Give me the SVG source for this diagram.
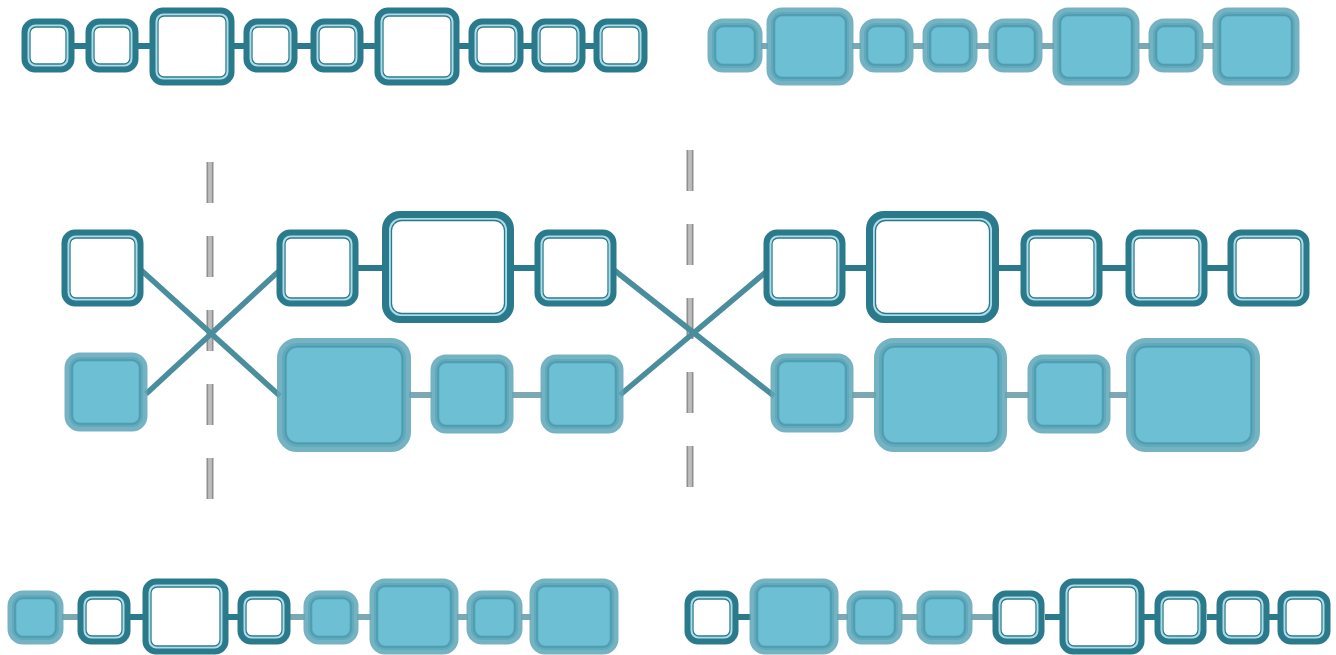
<svg xmlns="http://www.w3.org/2000/svg" width="1336" height="655" viewBox="0 0 1336 655">
<style>
.oo{fill:#fff;stroke:#2b7a8c;stroke-width:7;rx:10px}
.or{fill:none;stroke:#a9dde9;stroke-width:2;rx:7px}
.oi{fill:none;stroke:#2b7a8c;stroke-width:1.3;rx:6px}
.fo{fill:#6dbfd3;stroke:#5ea6b7;stroke-width:9;stroke-opacity:0.85;rx:11px}
.fi{fill:none;stroke:#4a9cb1;stroke-width:1.5;rx:8px}
.big .oo{rx:14px;stroke-width:8}.big .or{rx:11px}.big .oi{rx:10px}
.big .fo{rx:15px;stroke-width:10}.big .fi{rx:12px}
.cd{stroke:#2b7a8c;stroke-width:6;fill:none}
.cl{stroke:#7ca8b3;stroke-width:6;fill:none}
.cx{stroke:#4a8d9c;stroke-width:5.5;fill:none}
.dash1{stroke:#8f8f8f;stroke-width:7;stroke-dasharray:41 33;fill:none}
.dash2{stroke:#dedede;stroke-width:3;stroke-dasharray:41 33;fill:none}
.dash3{stroke:#9a9a9a;stroke-width:1;stroke-dasharray:41 33;fill:none}
</style>
<rect width="1336" height="655" fill="#fff"/>
<g id="separators">
<line class="dash1" x1="210" y1="162" x2="210" y2="503"/>
<line class="dash2" x1="210" y1="162" x2="210" y2="503"/>
<line class="dash3" x1="210" y1="162" x2="210" y2="503"/>
<line class="dash1" x1="690" y1="150" x2="690" y2="493"/>
<line class="dash2" x1="690" y1="150" x2="690" y2="493"/>
<line class="dash3" x1="690" y1="150" x2="690" y2="493"/>
</g>
<g id="connectors">
<line class="cd" x1="72" y1="46" x2="87" y2="46"/>
<line class="cd" x1="137" y1="46" x2="151" y2="46"/>
<line class="cd" x1="233" y1="46" x2="245" y2="46"/>
<line class="cd" x1="296" y1="46" x2="312" y2="46"/>
<line class="cd" x1="362" y1="46" x2="376" y2="46"/>
<line class="cd" x1="458" y1="46" x2="470" y2="46"/>
<line class="cd" x1="522" y1="46" x2="533" y2="46"/>
<line class="cd" x1="584" y1="46" x2="595" y2="46"/>
<line class="cl" x1="761" y1="46" x2="768" y2="46"/>
<line class="cl" x1="852" y1="46" x2="861" y2="46"/>
<line class="cl" x1="913" y1="46" x2="924" y2="46"/>
<line class="cl" x1="976" y1="46" x2="990" y2="46"/>
<line class="cl" x1="1042" y1="46" x2="1054" y2="46"/>
<line class="cl" x1="1138" y1="46" x2="1150" y2="46"/>
<line class="cl" x1="1202" y1="46" x2="1214" y2="46"/>
<line class="cd" x1="357" y1="268" x2="384" y2="268"/>
<line class="cd" x1="512" y1="268" x2="536" y2="268"/>
<line class="cd" x1="844" y1="268" x2="868" y2="268"/>
<line class="cd" x1="997" y1="268" x2="1022" y2="268"/>
<line class="cd" x1="1101" y1="268" x2="1127" y2="268"/>
<line class="cd" x1="1206" y1="268" x2="1229" y2="268"/>
<line class="cl" x1="409" y1="395" x2="432" y2="395"/>
<line class="cl" x1="512" y1="395" x2="542" y2="395"/>
<line class="cl" x1="852" y1="395" x2="876" y2="395"/>
<line class="cl" x1="1005" y1="395" x2="1029" y2="395"/>
<line class="cl" x1="1109" y1="395" x2="1128" y2="395"/>
<line class="cl" x1="62" y1="617" x2="79" y2="617"/>
<line class="cd" x1="130" y1="617" x2="144" y2="617"/>
<line class="cd" x1="227" y1="617" x2="239" y2="617"/>
<line class="cl" x1="290" y1="617" x2="305" y2="617"/>
<line class="cl" x1="357" y1="617" x2="371" y2="617"/>
<line class="cl" x1="457" y1="617" x2="468" y2="617"/>
<line class="cl" x1="521" y1="617" x2="531" y2="617"/>
<line class="cd" x1="737" y1="617" x2="751" y2="617"/>
<line class="cl" x1="837" y1="617" x2="848" y2="617"/>
<line class="cl" x1="901" y1="617" x2="918" y2="617"/>
<line class="cl" x1="971" y1="617" x2="994" y2="617"/>
<line class="cd" x1="1045" y1="617" x2="1061" y2="617"/>
<line class="cd" x1="1144" y1="617" x2="1156" y2="617"/>
<line class="cd" x1="1207" y1="617" x2="1218" y2="617"/>
<line class="cd" x1="1269" y1="617" x2="1279" y2="617"/>
<line class="cx" x1="141" y1="270" x2="280" y2="396"/>
<line class="cx" x1="146" y1="394" x2="279" y2="271"/>
<line class="cx" x1="614" y1="270" x2="774" y2="396"/>
<line class="cx" x1="620" y1="395" x2="766" y2="272"/>
</g>
<!-- top-left row -->
<g id="tl1" transform="translate(22,19)"><rect class="oo" x="3" y="3" width="46" height="47"/><rect class="or" x="6.5" y="6.5" width="39" height="40"/><rect class="oi" x="8" y="8" width="36" height="37"/></g>
<g id="tl2" transform="translate(86,19)"><rect class="oo" x="3" y="3" width="46" height="47"/><rect class="or" x="6.5" y="6.5" width="39" height="40"/><rect class="oi" x="8" y="8" width="36" height="37"/></g>
<g id="tl3" transform="translate(150,8)"><rect class="oo" x="3" y="3" width="78" height="71"/><rect class="or" x="6.5" y="6.5" width="71" height="64"/><rect class="oi" x="8" y="8" width="68" height="61"/></g>
<g id="tl4" transform="translate(244,19)"><rect class="oo" x="3" y="3" width="47" height="47"/><rect class="or" x="6.5" y="6.5" width="40" height="40"/><rect class="oi" x="8" y="8" width="37" height="37"/></g>
<g id="tl5" transform="translate(311,19)"><rect class="oo" x="3" y="3" width="46" height="47"/><rect class="or" x="6.5" y="6.5" width="39" height="40"/><rect class="oi" x="8" y="8" width="36" height="37"/></g>
<g id="tl6" transform="translate(375,8)"><rect class="oo" x="3" y="3" width="78" height="71"/><rect class="or" x="6.5" y="6.5" width="71" height="64"/><rect class="oi" x="8" y="8" width="68" height="61"/></g>
<g id="tl7" transform="translate(469,19)"><rect class="oo" x="3" y="3" width="48" height="47"/><rect class="or" x="6.5" y="6.5" width="41" height="40"/><rect class="oi" x="8" y="8" width="38" height="37"/></g>
<g id="tl8" transform="translate(532,19)"><rect class="oo" x="3" y="3" width="47" height="47"/><rect class="or" x="6.5" y="6.5" width="40" height="40"/><rect class="oi" x="8" y="8" width="37" height="37"/></g>
<g id="tl9" transform="translate(594,19)"><rect class="oo" x="3" y="3" width="47" height="47"/><rect class="or" x="6.5" y="6.5" width="40" height="40"/><rect class="oi" x="8" y="8" width="37" height="37"/></g>
<!-- top-right row -->
<g id="tr1" transform="translate(708,19)"><rect class="fo" x="4" y="4" width="46" height="45"/><rect class="fi" x="7" y="7" width="40" height="39"/></g>
<g id="tr2" transform="translate(767,8)"><rect class="fo" x="4" y="4" width="78" height="69"/><rect class="fi" x="7" y="7" width="72" height="63"/></g>
<g id="tr3" transform="translate(860,19)"><rect class="fo" x="4" y="4" width="45" height="45"/><rect class="fi" x="7" y="7" width="39" height="39"/></g>
<g id="tr4" transform="translate(923,19)"><rect class="fo" x="4" y="4" width="46" height="45"/><rect class="fi" x="7" y="7" width="40" height="39"/></g>
<g id="tr5" transform="translate(989,19)"><rect class="fo" x="4" y="4" width="45" height="45"/><rect class="fi" x="7" y="7" width="39" height="39"/></g>
<g id="tr6" transform="translate(1053,8)"><rect class="fo" x="4" y="4" width="78" height="69"/><rect class="fi" x="7" y="7" width="72" height="63"/></g>
<g id="tr7" transform="translate(1149,19)"><rect class="fo" x="4" y="4" width="46" height="45"/><rect class="fi" x="7" y="7" width="40" height="39"/></g>
<g id="tr8" transform="translate(1213,8)"><rect class="fo" x="4" y="4" width="78" height="69"/><rect class="fi" x="7" y="7" width="72" height="63"/></g>
<!-- middle top row -->
<g id="ma" transform="translate(62,230)"><rect class="oo" x="3" y="3" width="75" height="70"/><rect class="or" x="6.5" y="6.5" width="68" height="63"/><rect class="oi" x="8" y="8" width="65" height="60"/></g>
<g id="mb" transform="translate(277,230)"><rect class="oo" x="3" y="3" width="75" height="70"/><rect class="or" x="6.5" y="6.5" width="68" height="63"/><rect class="oi" x="8" y="8" width="65" height="60"/></g>
<g id="mc" class="big" transform="translate(383,212)"><rect class="oo" x="3" y="3" width="124" height="104"/><rect class="or" x="7" y="7" width="116" height="96"/><rect class="oi" x="8.5" y="8.5" width="113" height="93"/></g>
<g id="md" transform="translate(535,230)"><rect class="oo" x="3" y="3" width="75" height="70"/><rect class="or" x="6.5" y="6.5" width="68" height="63"/><rect class="oi" x="8" y="8" width="65" height="60"/></g>
<g id="me" transform="translate(764,230)"><rect class="oo" x="3" y="3" width="75" height="70"/><rect class="or" x="6.5" y="6.5" width="68" height="63"/><rect class="oi" x="8" y="8" width="65" height="60"/></g>
<g id="mf" class="big" transform="translate(867,212)"><rect class="oo" x="3" y="3" width="125" height="104"/><rect class="or" x="7" y="7" width="117" height="96"/><rect class="oi" x="8.5" y="8.5" width="114" height="93"/></g>
<g id="mg" transform="translate(1021,230)"><rect class="oo" x="3" y="3" width="75" height="70"/><rect class="or" x="6.5" y="6.5" width="68" height="63"/><rect class="oi" x="8" y="8" width="65" height="60"/></g>
<g id="mh" transform="translate(1126,230)"><rect class="oo" x="3" y="3" width="75" height="70"/><rect class="or" x="6.5" y="6.5" width="68" height="63"/><rect class="oi" x="8" y="8" width="65" height="60"/></g>
<g id="mi" transform="translate(1228,230)"><rect class="oo" x="3" y="3" width="75" height="70"/><rect class="or" x="6.5" y="6.5" width="68" height="63"/><rect class="oi" x="8" y="8" width="65" height="60"/></g>
<!-- middle bottom row -->
<g id="na" transform="translate(65,353)"><rect class="fo" x="4" y="4" width="74" height="70"/><rect class="fi" x="7" y="7" width="68" height="64"/></g>
<g id="nb" class="big" transform="translate(278,339)"><rect class="fo" x="4" y="4" width="124" height="104"/><rect class="fi" x="7.5" y="7.5" width="117" height="97"/></g>
<g id="nc" transform="translate(431,355)"><rect class="fo" x="4" y="4" width="74" height="70"/><rect class="fi" x="7" y="7" width="68" height="64"/></g>
<g id="nd" transform="translate(541,355)"><rect class="fo" x="4" y="4" width="74" height="70"/><rect class="fi" x="7" y="7" width="68" height="64"/></g>
<g id="ne" transform="translate(771,354)"><rect class="fo" x="4" y="4" width="74" height="70"/><rect class="fi" x="7" y="7" width="68" height="64"/></g>
<g id="nf" class="big" transform="translate(875,339)"><rect class="fo" x="4" y="4" width="123" height="104"/><rect class="fi" x="7.5" y="7.5" width="116" height="97"/></g>
<g id="ng" transform="translate(1028,355)"><rect class="fo" x="4" y="4" width="74" height="70"/><rect class="fi" x="7" y="7" width="68" height="64"/></g>
<g id="nh" class="big" transform="translate(1127,339)"><rect class="fo" x="4" y="4" width="124" height="104"/><rect class="fi" x="7.5" y="7.5" width="117" height="97"/></g>
<!-- bottom-left row -->
<g id="bl1" transform="translate(8,591)"><rect class="fo" x="4" y="4" width="47" height="45"/><rect class="fi" x="7" y="7" width="41" height="39"/></g>
<g id="bl2" transform="translate(78,591)"><rect class="oo" x="3" y="3" width="46" height="47"/><rect class="or" x="6.5" y="6.5" width="39" height="40"/><rect class="oi" x="8" y="8" width="36" height="37"/></g>
<g id="bl3" transform="translate(143,579)"><rect class="oo" x="3" y="3" width="79" height="69"/><rect class="or" x="6.5" y="6.5" width="72" height="62"/><rect class="oi" x="8" y="8" width="69" height="59"/></g>
<g id="bl4" transform="translate(238,591)"><rect class="oo" x="3" y="3" width="46" height="47"/><rect class="or" x="6.5" y="6.5" width="39" height="40"/><rect class="oi" x="8" y="8" width="36" height="37"/></g>
<g id="bl5" transform="translate(304,591)"><rect class="fo" x="4" y="4" width="46" height="45"/><rect class="fi" x="7" y="7" width="40" height="39"/></g>
<g id="bl6" transform="translate(370,579)"><rect class="fo" x="4" y="4" width="80" height="67"/><rect class="fi" x="7" y="7" width="74" height="61"/></g>
<g id="bl7" transform="translate(467,591)"><rect class="fo" x="4" y="4" width="47" height="45"/><rect class="fi" x="7" y="7" width="41" height="39"/></g>
<g id="bl8" transform="translate(530,579)"><rect class="fo" x="4" y="4" width="80" height="67"/><rect class="fi" x="7" y="7" width="74" height="61"/></g>
<!-- bottom-right row -->
<g id="br1" transform="translate(685,591)"><rect class="oo" x="3" y="3" width="47" height="47"/><rect class="or" x="6.5" y="6.5" width="40" height="40"/><rect class="oi" x="8" y="8" width="37" height="37"/></g>
<g id="br2" transform="translate(750,579)"><rect class="fo" x="4" y="4" width="80" height="67"/><rect class="fi" x="7" y="7" width="74" height="61"/></g>
<g id="br3" transform="translate(847,591)"><rect class="fo" x="4" y="4" width="47" height="45"/><rect class="fi" x="7" y="7" width="41" height="39"/></g>
<g id="br4" transform="translate(917,591)"><rect class="fo" x="4" y="4" width="47" height="45"/><rect class="fi" x="7" y="7" width="41" height="39"/></g>
<g id="br5" transform="translate(993,591)"><rect class="oo" x="3" y="3" width="45" height="47"/><rect class="or" x="6.5" y="6.5" width="38" height="40"/><rect class="oi" x="8" y="8" width="35" height="37"/></g>
<g id="br6" transform="translate(1060,579)"><rect class="oo" x="3" y="3" width="78" height="69"/><rect class="or" x="6.5" y="6.5" width="71" height="62"/><rect class="oi" x="8" y="8" width="68" height="59"/></g>
<g id="br7" transform="translate(1155,591)"><rect class="oo" x="3" y="3" width="45" height="47"/><rect class="or" x="6.5" y="6.5" width="38" height="40"/><rect class="oi" x="8" y="8" width="35" height="37"/></g>
<g id="br8" transform="translate(1217,591)"><rect class="oo" x="3" y="3" width="46" height="47"/><rect class="or" x="6.5" y="6.5" width="39" height="40"/><rect class="oi" x="8" y="8" width="36" height="37"/></g>
<g id="br9" transform="translate(1278,591)"><rect class="oo" x="3" y="3" width="46" height="47"/><rect class="or" x="6.5" y="6.5" width="39" height="40"/><rect class="oi" x="8" y="8" width="36" height="37"/></g>
</svg>
